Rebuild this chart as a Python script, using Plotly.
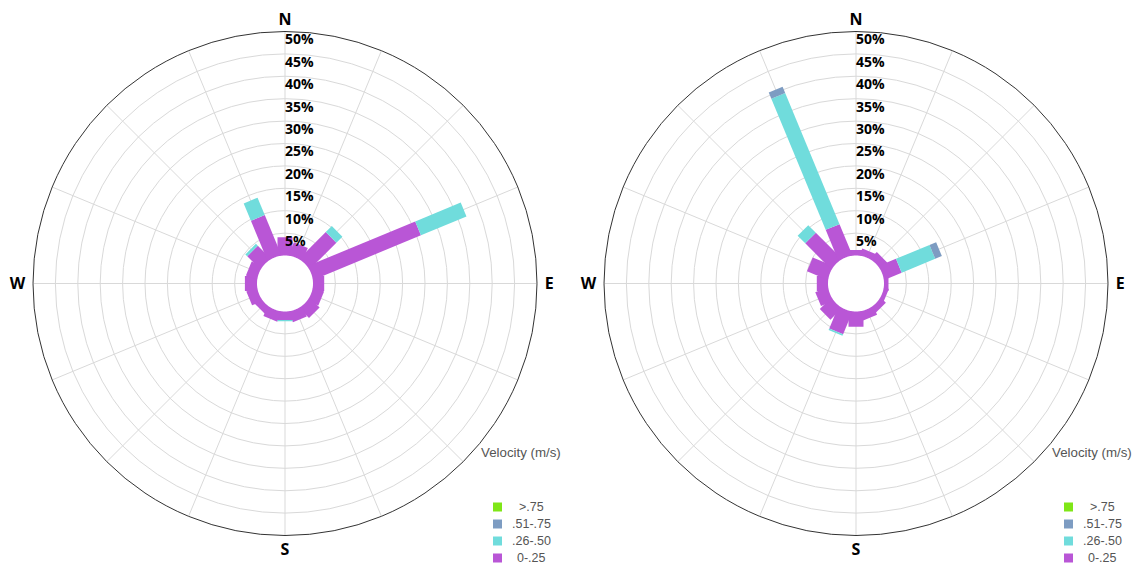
import plotly.graph_objects as go

# Compass sectors (16-point rose), clockwise from north
directions = ["N", "NNE", "NE", "ENE", "E", "ESE", "SE", "SSE",
              "S", "SSW", "SW", "WSW", "W", "WNW", "NW", "NNW"]

# Velocity classes, listed slowest first
speed_bins = ["0-.25", ".26-.50", ".51-.75", ">.75"]
bin_colors = ["#B956D6", "#70DCDC", "#7D9CC2", "#7FE617"]

# Frequency (%) per sector and velocity class - left rose
left_0_25 = [4.1, 3.0, 8.3, 25.9, 2.5, 2.5, 3.0, 2.4, 1.9, 2.3, 1.7, 2.4, 2.7, 2.5, 4.0, 9.6]
left_26_50 = [0, 0, 1.9, 11.0, 0, 0, 0, 0, 0.3, 0, 0, 0, 0, 0, 0.6, 4.2]
left_51_75 = [0] * 16
left_gt_75 = [0] * 16

# Frequency (%) per sector and velocity class - right rose
right_0_25 = [1.2, 1.5, 2.0, 4.1, 1.0, 1.0, 1.5, 2.0, 3.4, 5.3, 3.5, 2.9, 2.5, 4.9, 8.1, 7.4]
right_26_50 = [0, 0, 0, 8.1, 0, 0, 0, 0, 0, 0.4, 0, 0, 0, 0, 2.4, 31.7]
right_51_75 = [0, 0, 0, 1.6, 0, 0, 0, 0, 0, 0, 0, 0, 0, 0, 0, 1.5]
right_gt_75 = [0] * 16

# Radial tick labels
ring_values = [5, 10, 15, 20, 25, 30, 35, 40, 45, 50]
ring_labels = [f"{v}%" for v in ring_values]

W, H = 1144, 565
R_MIN = -6.25          # radial value at the very centre (leaves an empty hole)
BAR_WIDTH = 15
GRID = "#D9D9D9"
TEXT_GREY = "#555555"
NBSP = "\u00a0"

fig = go.Figure()


def add_rose(subplot, series):
    angles = [i * 22.5 for i in range(len(directions))]
    cum = [0.0] * len(directions)
    for name, color, vals in zip(speed_bins, bin_colors, series):
        rr, tt = [], []
        for i, v in enumerate(vals):
            if v <= 0:
                continue
            start = R_MIN if cum[i] == 0 else cum[i]
            end = cum[i] + v
            rr += [start, end, None]
            tt += [angles[i], angles[i], None]
            cum[i] = end
        if rr:
            fig.add_trace(go.Scatterpolar(
                r=rr, theta=tt, mode="lines", subplot=subplot, name=name,
                line=dict(color=color, width=BAR_WIDTH),
                connectgaps=False, showlegend=False, hoverinfo="skip"))
    # empty hole in the middle
    circ = [i * 2.0 for i in range(181)]
    fig.add_trace(go.Scatterpolar(
        r=[0] * len(circ), theta=circ, mode="lines", fill="toself",
        fillcolor="white", line=dict(color="white", width=0),
        subplot=subplot, showlegend=False, hoverinfo="skip"))
    # ring labels up the north spoke
    fig.add_trace(go.Scatterpolar(
        r=[v - 2.1 for v in ring_values], theta=[0] * len(ring_values),
        mode="text", text=ring_labels, textposition="middle right",
        textfont=dict(family="Open Sans", size=14, color="black", weight="bold"),
        subplot=subplot, showlegend=False, hoverinfo="skip"))


add_rose("polar", [left_0_25, left_26_50, left_51_75, left_gt_75])
add_rose("polar2", [right_0_25, right_26_50, right_51_75, right_gt_75])

compass_text = {"N": "N", "E": NBSP + "E", "S": "S", "W": "W" + NBSP}


def polar_layout(x0, x1):
    return dict(
        domain=dict(x=[x0 / W, x1 / W], y=[1 - 535.5 / H, 1 - 31.5 / H]),
        bgcolor="white",
        radialaxis=dict(range=[R_MIN, 50], tickvals=ring_values,
                        showticklabels=False, ticks="", showline=False,
                        gridcolor=GRID, gridwidth=1),
        angularaxis=dict(rotation=90, direction="clockwise",
                         tickmode="array",
                         tickvals=[i * 22.5 for i in range(16)],
                         ticktext=[compass_text.get(d, "") for d in directions],
                         tickfont=dict(family="Open Sans", size=16, color="black", weight="bold"),
                         ticks="", showline=True, linecolor="#333333", linewidth=1,
                         gridcolor=GRID, gridwidth=1),
    )


# Legend key beside each rose: swatch + centred label, fastest class on top
annotations, shapes = [], []
for cx in (285, 856):
    annotations.append(dict(
        text="Velocity (m/s)", x=(cx + 194) / W, y=1 - 452 / H,
        xref="paper", yref="paper", xanchor="left", yanchor="middle",
        showarrow=False, font=dict(family="Liberation Sans", size=13.3, color=TEXT_GREY)))
    for row, (name, color) in enumerate(reversed(list(zip(speed_bins, bin_colors)))):
        yc = 507 + 17 * row
        sx = cx + 212.5
        shapes.append(dict(type="rect", xref="paper", yref="paper",
                           x0=(sx - 4.5) / W, x1=(sx + 4.5) / W,
                           y0=1 - (yc + 4.5) / H, y1=1 - (yc - 4.5) / H,
                           fillcolor=color, line=dict(width=0)))
        annotations.append(dict(
            text=name, x=(cx + 246) / W, y=1 - yc / H,
            xref="paper", yref="paper", xanchor="center", yanchor="middle",
            showarrow=False, font=dict(family="Liberation Sans", size=12.5, color=TEXT_GREY)))

fig.update_layout(
    width=W, height=H,
    margin=dict(l=0, r=0, t=0, b=0, autoexpand=False),
    paper_bgcolor="white",
    showlegend=False,
    polar=polar_layout(33, 537),
    polar2=polar_layout(604, 1108),
    annotations=annotations,
    shapes=shapes,
)

fig.write_html("out.html")
